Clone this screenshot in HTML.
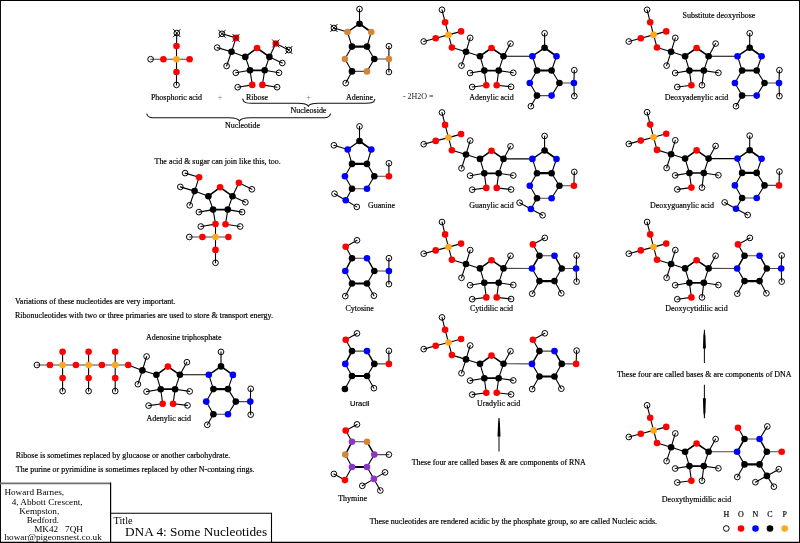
<!DOCTYPE html>
<html lang="en">
<head>
<meta charset="utf-8">
<title>DNA 4: Some Nucleotides</title>
<style>
html,body{margin:0;padding:0;background:#fff;}
body{width:800px;height:543px;overflow:hidden;font-family:"Liberation Serif",serif;}
svg{display:block;will-change:transform;}
svg text{white-space:pre;}
circle.h{fill:none;stroke:#000;stroke-width:0.98;}
.ln{fill:none;stroke:#111;stroke-width:1.05;}
</style>
</head>
<body>
<svg width="800" height="543" viewBox="0 0 800 543">
<rect x="0" y="0" width="800" height="543" fill="#fff"/>
<g stroke="#000" stroke-width="1.1" stroke-linecap="round">
<line x1="466" y1="51.8" x2="470.2" y2="37.9"/>
<line x1="466" y1="51.8" x2="461.5" y2="65.6"/>
<line x1="466" y1="51.8" x2="480" y2="56.2"/>
<line x1="480" y1="56.2" x2="491.5" y2="48" stroke-width="1.6"/>
<line x1="491.5" y1="48" x2="503.5" y2="56.2" stroke-width="1.6"/>
<line x1="480" y1="56.2" x2="484.3" y2="70.6"/>
<line x1="484.3" y1="70.6" x2="498.7" y2="70.6" stroke-width="1.7"/>
<line x1="498.7" y1="70.6" x2="503.5" y2="56.2"/>
<line x1="503.5" y1="56.2" x2="510.5" y2="43.6"/>
<line x1="484.3" y1="70.6" x2="470.1" y2="73"/>
<line x1="498.7" y1="70.6" x2="513.3" y2="72.8"/>
<line x1="484.3" y1="70.6" x2="486.3" y2="85.2"/>
<line x1="486.3" y1="85.2" x2="472.2" y2="87"/>
<line x1="498.7" y1="70.6" x2="496.7" y2="85.2"/>
<line x1="496.7" y1="85.2" x2="511.1" y2="86.8"/>
<line x1="442" y1="9.8" x2="445.1" y2="22.2"/>
<line x1="445.1" y1="22.2" x2="448.5" y2="34.9"/>
<line x1="448.5" y1="34.9" x2="461.1" y2="31.4"/>
<line x1="448.5" y1="34.9" x2="435.7" y2="38.2"/>
<line x1="435.7" y1="38.2" x2="423.7" y2="41.5"/>
<line x1="448.5" y1="34.9" x2="451.9" y2="47.5"/>
<line x1="451.9" y1="47.5" x2="466" y2="51.8"/>
<line x1="503.5" y1="56.2" x2="532.4" y2="56.2" stroke-width="1.1"/>
<line x1="532.4" y1="56.2" x2="544.6" y2="47.8" stroke-width="1.4"/>
<line x1="544.6" y1="47.8" x2="544.6" y2="33.3"/>
<line x1="544.6" y1="47.8" x2="556.5" y2="56.3" stroke-width="1.7"/>
<line x1="556.5" y1="56.3" x2="551.6" y2="70.5"/>
<line x1="551.6" y1="70.5" x2="537" y2="70.5" stroke-width="2.2"/>
<line x1="537" y1="70.5" x2="532.4" y2="56.2"/>
<line x1="537" y1="70.5" x2="529.8" y2="83"/>
<line x1="529.8" y1="83" x2="537" y2="95.6"/>
<line x1="537" y1="95.6" x2="551.6" y2="95.6" stroke="#4a4a4a"/>
<line x1="551.6" y1="95.6" x2="559.4" y2="83"/>
<line x1="559.4" y1="83" x2="551.6" y2="70.5"/>
<line x1="559.4" y1="83" x2="573.9" y2="83" stroke="#4a4a4a"/>
<line x1="573.9" y1="83" x2="574.3" y2="70.2"/>
<line x1="573.9" y1="83" x2="574.3" y2="96.1"/>
<line x1="537" y1="95.6" x2="530.9" y2="106.2"/>
<line x1="466" y1="154.5" x2="470.2" y2="140.6"/>
<line x1="466" y1="154.5" x2="461.5" y2="168.3"/>
<line x1="466" y1="154.5" x2="480" y2="158.9"/>
<line x1="480" y1="158.9" x2="491.5" y2="150.7" stroke-width="1.6"/>
<line x1="491.5" y1="150.7" x2="503.5" y2="158.9" stroke-width="1.6"/>
<line x1="480" y1="158.9" x2="484.3" y2="173.3"/>
<line x1="484.3" y1="173.3" x2="498.7" y2="173.3" stroke-width="1.7"/>
<line x1="498.7" y1="173.3" x2="503.5" y2="158.9"/>
<line x1="503.5" y1="158.9" x2="510.5" y2="146.3"/>
<line x1="484.3" y1="173.3" x2="470.1" y2="175.7"/>
<line x1="498.7" y1="173.3" x2="513.3" y2="175.5"/>
<line x1="484.3" y1="173.3" x2="486.3" y2="187.9"/>
<line x1="486.3" y1="187.9" x2="472.2" y2="189.7"/>
<line x1="498.7" y1="173.3" x2="496.7" y2="187.9"/>
<line x1="496.7" y1="187.9" x2="511.1" y2="189.5"/>
<line x1="442" y1="112.5" x2="445.1" y2="124.9"/>
<line x1="445.1" y1="124.9" x2="448.5" y2="137.6"/>
<line x1="448.5" y1="137.6" x2="461.1" y2="134.1"/>
<line x1="448.5" y1="137.6" x2="435.7" y2="140.9"/>
<line x1="435.7" y1="140.9" x2="423.7" y2="144.2"/>
<line x1="448.5" y1="137.6" x2="451.9" y2="150.2"/>
<line x1="451.9" y1="150.2" x2="466" y2="154.5"/>
<line x1="503.5" y1="158.9" x2="532.4" y2="158.9" stroke-width="1.1"/>
<line x1="532.4" y1="158.9" x2="544.6" y2="150.5" stroke-width="1.4"/>
<line x1="544.6" y1="150.5" x2="544.6" y2="136"/>
<line x1="544.6" y1="150.5" x2="556.5" y2="159" stroke-width="1.7"/>
<line x1="556.5" y1="159" x2="551.6" y2="173.2"/>
<line x1="551.6" y1="173.2" x2="537" y2="173.2" stroke-width="2.2"/>
<line x1="537" y1="173.2" x2="532.4" y2="158.9"/>
<line x1="537" y1="173.2" x2="529.8" y2="185.7"/>
<line x1="529.8" y1="185.7" x2="537" y2="198.3"/>
<line x1="537" y1="198.3" x2="551.6" y2="198.3" stroke="#4a4a4a"/>
<line x1="551.6" y1="198.3" x2="559.4" y2="185.7"/>
<line x1="559.4" y1="185.7" x2="551.6" y2="173.2"/>
<line x1="559.4" y1="185.7" x2="573.9" y2="185.7" stroke="#4a4a4a"/>
<line x1="573.9" y1="185.7" x2="574.3" y2="171.9"/>
<line x1="537" y1="198.3" x2="530.9" y2="209"/>
<line x1="530.9" y1="209" x2="519.6" y2="202.7"/>
<line x1="530.9" y1="209" x2="542.6" y2="215.3"/>
<line x1="466" y1="264" x2="470.2" y2="250.1"/>
<line x1="466" y1="264" x2="461.5" y2="277.8"/>
<line x1="466" y1="264" x2="480" y2="268.4"/>
<line x1="480" y1="268.4" x2="491.5" y2="260.2" stroke-width="1.6"/>
<line x1="491.5" y1="260.2" x2="503.5" y2="268.4" stroke-width="1.6"/>
<line x1="480" y1="268.4" x2="484.3" y2="282.8"/>
<line x1="484.3" y1="282.8" x2="498.7" y2="282.8" stroke-width="1.7"/>
<line x1="498.7" y1="282.8" x2="503.5" y2="268.4"/>
<line x1="503.5" y1="268.4" x2="510.5" y2="255.8"/>
<line x1="484.3" y1="282.8" x2="470.1" y2="285.2"/>
<line x1="498.7" y1="282.8" x2="513.3" y2="285"/>
<line x1="484.3" y1="282.8" x2="486.3" y2="297.4"/>
<line x1="486.3" y1="297.4" x2="472.2" y2="299.2"/>
<line x1="498.7" y1="282.8" x2="496.7" y2="297.4"/>
<line x1="496.7" y1="297.4" x2="511.1" y2="299"/>
<line x1="442" y1="222" x2="445.1" y2="234.4"/>
<line x1="445.1" y1="234.4" x2="448.5" y2="247.1"/>
<line x1="448.5" y1="247.1" x2="461.1" y2="243.6"/>
<line x1="448.5" y1="247.1" x2="435.7" y2="250.4"/>
<line x1="435.7" y1="250.4" x2="423.7" y2="253.7"/>
<line x1="448.5" y1="247.1" x2="451.9" y2="259.7"/>
<line x1="451.9" y1="259.7" x2="466" y2="264"/>
<line x1="503.5" y1="268.4" x2="532" y2="268.5" stroke="#4a4a4a"/>
<line x1="532" y1="268.5" x2="539.4" y2="255.7" stroke-width="1.5"/>
<line x1="539.4" y1="255.7" x2="554.5" y2="255.7" stroke="#4a4a4a"/>
<line x1="554.5" y1="255.7" x2="561.7" y2="268.5" stroke-width="1.5"/>
<line x1="561.7" y1="268.5" x2="554.5" y2="281.1"/>
<line x1="554.5" y1="281.1" x2="539.4" y2="281.1" stroke-width="2.2"/>
<line x1="539.4" y1="281.1" x2="532" y2="268.5"/>
<line x1="539.4" y1="255.7" x2="532.9" y2="244.4"/>
<line x1="539.4" y1="281.1" x2="532.2" y2="293.7"/>
<line x1="532.9" y1="244.4" x2="544.8" y2="237.9"/>
<line x1="554.5" y1="281.1" x2="561.3" y2="293.3"/>
<line x1="561.7" y1="268.5" x2="576.1" y2="268.5" stroke="#4a4a4a"/>
<line x1="576.1" y1="268.5" x2="576.6" y2="255.5"/>
<line x1="576.1" y1="268.5" x2="576.6" y2="281.6"/>
<line x1="466" y1="359.4" x2="470.2" y2="345.5"/>
<line x1="466" y1="359.4" x2="461.5" y2="373.2"/>
<line x1="466" y1="359.4" x2="480" y2="363.8"/>
<line x1="480" y1="363.8" x2="491.5" y2="355.6" stroke-width="1.6"/>
<line x1="491.5" y1="355.6" x2="503.5" y2="363.8" stroke-width="1.6"/>
<line x1="480" y1="363.8" x2="484.3" y2="378.2"/>
<line x1="484.3" y1="378.2" x2="498.7" y2="378.2" stroke-width="1.7"/>
<line x1="498.7" y1="378.2" x2="503.5" y2="363.8"/>
<line x1="503.5" y1="363.8" x2="510.5" y2="351.2"/>
<line x1="484.3" y1="378.2" x2="470.1" y2="380.6"/>
<line x1="498.7" y1="378.2" x2="513.3" y2="380.4"/>
<line x1="484.3" y1="378.2" x2="486.3" y2="392.8"/>
<line x1="486.3" y1="392.8" x2="472.2" y2="394.6"/>
<line x1="498.7" y1="378.2" x2="496.7" y2="392.8"/>
<line x1="496.7" y1="392.8" x2="511.1" y2="394.4"/>
<line x1="442" y1="317.4" x2="445.1" y2="329.8"/>
<line x1="445.1" y1="329.8" x2="448.5" y2="342.5"/>
<line x1="448.5" y1="342.5" x2="461.1" y2="339"/>
<line x1="448.5" y1="342.5" x2="435.7" y2="345.8"/>
<line x1="435.7" y1="345.8" x2="423.7" y2="349.1"/>
<line x1="448.5" y1="342.5" x2="451.9" y2="355.1"/>
<line x1="451.9" y1="355.1" x2="466" y2="359.4"/>
<line x1="503.5" y1="363.8" x2="532" y2="363.9" stroke="#4a4a4a"/>
<line x1="532" y1="363.9" x2="539.4" y2="351.1" stroke-width="1.5"/>
<line x1="539.4" y1="351.1" x2="554.5" y2="351.1" stroke="#4a4a4a"/>
<line x1="554.5" y1="351.1" x2="561.7" y2="363.9" stroke-width="1.5"/>
<line x1="561.7" y1="363.9" x2="554.5" y2="376.5"/>
<line x1="554.5" y1="376.5" x2="539.4" y2="376.5" stroke-width="2.2"/>
<line x1="539.4" y1="376.5" x2="532" y2="363.9"/>
<line x1="539.4" y1="351.1" x2="532.9" y2="339.8"/>
<line x1="539.4" y1="376.5" x2="532.2" y2="389.1"/>
<line x1="532.9" y1="339.8" x2="544.8" y2="333.3"/>
<line x1="554.5" y1="376.5" x2="561.3" y2="388.7"/>
<line x1="561.7" y1="363.9" x2="576.1" y2="363.9" stroke="#4a4a4a"/>
<line x1="576.1" y1="363.9" x2="576.6" y2="350.6"/>
<line x1="671.1" y1="51.8" x2="675.3" y2="37.9"/>
<line x1="671.1" y1="51.8" x2="666.6" y2="65.6"/>
<line x1="671.1" y1="51.8" x2="685.1" y2="56.2"/>
<line x1="685.1" y1="56.2" x2="696.6" y2="48" stroke-width="1.6"/>
<line x1="696.6" y1="48" x2="708.6" y2="56.2" stroke-width="1.6"/>
<line x1="685.1" y1="56.2" x2="689.4" y2="70.6"/>
<line x1="689.4" y1="70.6" x2="703.8" y2="70.6" stroke-width="1.7"/>
<line x1="703.8" y1="70.6" x2="708.6" y2="56.2"/>
<line x1="708.6" y1="56.2" x2="715.6" y2="43.6"/>
<line x1="689.4" y1="70.6" x2="675.2" y2="73"/>
<line x1="703.8" y1="70.6" x2="718.4" y2="72.8"/>
<line x1="689.4" y1="70.6" x2="691.4" y2="85.2"/>
<line x1="691.4" y1="85.2" x2="677.3" y2="87"/>
<line x1="703.8" y1="70.6" x2="702" y2="85.2"/>
<line x1="647.1" y1="9.8" x2="650.2" y2="22.2"/>
<line x1="650.2" y1="22.2" x2="653.6" y2="34.9"/>
<line x1="653.6" y1="34.9" x2="666.2" y2="31.4"/>
<line x1="653.6" y1="34.9" x2="640.8" y2="38.2"/>
<line x1="640.8" y1="38.2" x2="628.8" y2="41.5"/>
<line x1="653.6" y1="34.9" x2="657" y2="47.5"/>
<line x1="657" y1="47.5" x2="671.1" y2="51.8"/>
<line x1="708.6" y1="56.2" x2="737.5" y2="56.2" stroke-width="1.1"/>
<line x1="737.5" y1="56.2" x2="749.7" y2="47.8" stroke-width="1.4"/>
<line x1="749.7" y1="47.8" x2="749.7" y2="33.3"/>
<line x1="749.7" y1="47.8" x2="761.6" y2="56.3" stroke-width="1.7"/>
<line x1="761.6" y1="56.3" x2="756.7" y2="70.5"/>
<line x1="756.7" y1="70.5" x2="742.1" y2="70.5" stroke-width="2.2"/>
<line x1="742.1" y1="70.5" x2="737.5" y2="56.2"/>
<line x1="742.1" y1="70.5" x2="734.9" y2="83"/>
<line x1="734.9" y1="83" x2="742.1" y2="95.6"/>
<line x1="742.1" y1="95.6" x2="756.7" y2="95.6" stroke="#4a4a4a"/>
<line x1="756.7" y1="95.6" x2="764.5" y2="83"/>
<line x1="764.5" y1="83" x2="756.7" y2="70.5"/>
<line x1="764.5" y1="83" x2="779" y2="83" stroke="#4a4a4a"/>
<line x1="779" y1="83" x2="779.4" y2="70.2"/>
<line x1="779" y1="83" x2="779.4" y2="96.1"/>
<line x1="742.1" y1="95.6" x2="736" y2="106.2"/>
<line x1="671.1" y1="154.2" x2="675.3" y2="140.3"/>
<line x1="671.1" y1="154.2" x2="666.6" y2="168"/>
<line x1="671.1" y1="154.2" x2="685.1" y2="158.6"/>
<line x1="685.1" y1="158.6" x2="696.6" y2="150.4" stroke-width="1.6"/>
<line x1="696.6" y1="150.4" x2="708.6" y2="158.6" stroke-width="1.6"/>
<line x1="685.1" y1="158.6" x2="689.4" y2="173"/>
<line x1="689.4" y1="173" x2="703.8" y2="173" stroke-width="1.7"/>
<line x1="703.8" y1="173" x2="708.6" y2="158.6"/>
<line x1="708.6" y1="158.6" x2="715.6" y2="146"/>
<line x1="689.4" y1="173" x2="675.2" y2="175.4"/>
<line x1="703.8" y1="173" x2="718.4" y2="175.2"/>
<line x1="689.4" y1="173" x2="691.4" y2="187.6"/>
<line x1="691.4" y1="187.6" x2="677.3" y2="189.4"/>
<line x1="703.8" y1="173" x2="702" y2="187.6"/>
<line x1="647.1" y1="112.2" x2="650.2" y2="124.6"/>
<line x1="650.2" y1="124.6" x2="653.6" y2="137.3"/>
<line x1="653.6" y1="137.3" x2="666.2" y2="133.8"/>
<line x1="653.6" y1="137.3" x2="640.8" y2="140.6"/>
<line x1="640.8" y1="140.6" x2="628.8" y2="143.9"/>
<line x1="653.6" y1="137.3" x2="657" y2="149.9"/>
<line x1="657" y1="149.9" x2="671.1" y2="154.2"/>
<line x1="708.6" y1="158.6" x2="737.5" y2="158.6" stroke-width="1.1"/>
<line x1="737.5" y1="158.6" x2="749.7" y2="150.2" stroke-width="1.4"/>
<line x1="749.7" y1="150.2" x2="749.7" y2="135.7"/>
<line x1="749.7" y1="150.2" x2="761.6" y2="158.7" stroke-width="1.7"/>
<line x1="761.6" y1="158.7" x2="756.7" y2="172.9"/>
<line x1="756.7" y1="172.9" x2="742.1" y2="172.9" stroke-width="2.2"/>
<line x1="742.1" y1="172.9" x2="737.5" y2="158.6"/>
<line x1="742.1" y1="172.9" x2="734.9" y2="185.4"/>
<line x1="734.9" y1="185.4" x2="742.1" y2="198"/>
<line x1="742.1" y1="198" x2="756.7" y2="198" stroke="#4a4a4a"/>
<line x1="756.7" y1="198" x2="764.5" y2="185.4"/>
<line x1="764.5" y1="185.4" x2="756.7" y2="172.9"/>
<line x1="764.5" y1="185.4" x2="779" y2="185.4" stroke="#4a4a4a"/>
<line x1="779" y1="185.4" x2="779.4" y2="171.6"/>
<line x1="742.1" y1="198" x2="736" y2="208.7"/>
<line x1="736" y1="208.7" x2="724.7" y2="202.4"/>
<line x1="736" y1="208.7" x2="747.7" y2="215"/>
<line x1="671.1" y1="264" x2="675.3" y2="250.1"/>
<line x1="671.1" y1="264" x2="666.6" y2="277.8"/>
<line x1="671.1" y1="264" x2="685.1" y2="268.4"/>
<line x1="685.1" y1="268.4" x2="696.6" y2="260.2" stroke-width="1.6"/>
<line x1="696.6" y1="260.2" x2="708.6" y2="268.4" stroke-width="1.6"/>
<line x1="685.1" y1="268.4" x2="689.4" y2="282.8"/>
<line x1="689.4" y1="282.8" x2="703.8" y2="282.8" stroke-width="1.7"/>
<line x1="703.8" y1="282.8" x2="708.6" y2="268.4"/>
<line x1="708.6" y1="268.4" x2="715.6" y2="255.8"/>
<line x1="689.4" y1="282.8" x2="675.2" y2="285.2"/>
<line x1="703.8" y1="282.8" x2="718.4" y2="285"/>
<line x1="689.4" y1="282.8" x2="691.4" y2="297.4"/>
<line x1="691.4" y1="297.4" x2="677.3" y2="299.2"/>
<line x1="703.8" y1="282.8" x2="702" y2="297.4"/>
<line x1="647.1" y1="222" x2="650.2" y2="234.4"/>
<line x1="650.2" y1="234.4" x2="653.6" y2="247.1"/>
<line x1="653.6" y1="247.1" x2="666.2" y2="243.6"/>
<line x1="653.6" y1="247.1" x2="640.8" y2="250.4"/>
<line x1="640.8" y1="250.4" x2="628.8" y2="253.7"/>
<line x1="653.6" y1="247.1" x2="657" y2="259.7"/>
<line x1="657" y1="259.7" x2="671.1" y2="264"/>
<line x1="708.6" y1="268.4" x2="737.1" y2="268.5" stroke="#4a4a4a"/>
<line x1="737.1" y1="268.5" x2="744.5" y2="255.7" stroke-width="1.5"/>
<line x1="744.5" y1="255.7" x2="759.6" y2="255.7" stroke="#4a4a4a"/>
<line x1="759.6" y1="255.7" x2="766.8" y2="268.5" stroke-width="1.5"/>
<line x1="766.8" y1="268.5" x2="759.6" y2="281.1"/>
<line x1="759.6" y1="281.1" x2="744.5" y2="281.1" stroke-width="2.2"/>
<line x1="744.5" y1="281.1" x2="737.1" y2="268.5"/>
<line x1="744.5" y1="255.7" x2="738" y2="244.4"/>
<line x1="744.5" y1="281.1" x2="737.3" y2="293.7"/>
<line x1="738" y1="244.4" x2="749.9" y2="237.9"/>
<line x1="759.6" y1="281.1" x2="766.4" y2="293.3"/>
<line x1="766.8" y1="268.5" x2="781.2" y2="268.5" stroke="#4a4a4a"/>
<line x1="781.2" y1="268.5" x2="781.7" y2="255.5"/>
<line x1="781.2" y1="268.5" x2="781.7" y2="281.6"/>
<line x1="671.1" y1="447.3" x2="675.3" y2="433.4"/>
<line x1="671.1" y1="447.3" x2="666.6" y2="461.1"/>
<line x1="671.1" y1="447.3" x2="685.1" y2="451.7"/>
<line x1="685.1" y1="451.7" x2="696.6" y2="443.5" stroke-width="1.6"/>
<line x1="696.6" y1="443.5" x2="708.6" y2="451.7" stroke-width="1.6"/>
<line x1="685.1" y1="451.7" x2="689.4" y2="466.1"/>
<line x1="689.4" y1="466.1" x2="703.8" y2="466.1" stroke-width="1.7"/>
<line x1="703.8" y1="466.1" x2="708.6" y2="451.7"/>
<line x1="708.6" y1="451.7" x2="715.6" y2="439.1"/>
<line x1="689.4" y1="466.1" x2="675.2" y2="468.5"/>
<line x1="703.8" y1="466.1" x2="718.4" y2="468.3"/>
<line x1="689.4" y1="466.1" x2="691.4" y2="480.7"/>
<line x1="691.4" y1="480.7" x2="677.3" y2="482.5"/>
<line x1="703.8" y1="466.1" x2="702" y2="480.7"/>
<line x1="647.1" y1="405.3" x2="650.2" y2="417.7"/>
<line x1="650.2" y1="417.7" x2="653.6" y2="430.4"/>
<line x1="653.6" y1="430.4" x2="666.2" y2="426.9"/>
<line x1="653.6" y1="430.4" x2="640.8" y2="433.7"/>
<line x1="640.8" y1="433.7" x2="628.8" y2="437"/>
<line x1="653.6" y1="430.4" x2="657" y2="443"/>
<line x1="657" y1="443" x2="671.1" y2="447.3"/>
<line x1="708.6" y1="451.7" x2="737.1" y2="451.8" stroke="#4a4a4a"/>
<line x1="737.1" y1="451.8" x2="744.5" y2="439" stroke-width="1.5"/>
<line x1="744.5" y1="439" x2="759.6" y2="439" stroke="#4a4a4a"/>
<line x1="759.6" y1="439" x2="766.8" y2="451.8" stroke-width="1.5"/>
<line x1="766.8" y1="451.8" x2="759.6" y2="464.4"/>
<line x1="759.6" y1="464.4" x2="744.5" y2="464.4" stroke-width="2.2"/>
<line x1="744.5" y1="464.4" x2="737.1" y2="451.8"/>
<line x1="744.5" y1="439" x2="738" y2="427.7"/>
<line x1="744.5" y1="464.4" x2="737.3" y2="477"/>
<line x1="759.6" y1="439" x2="767.3" y2="426.4"/>
<line x1="766.8" y1="451.8" x2="781.7" y2="451.8" stroke="#4a4a4a"/>
<line x1="759.6" y1="464.4" x2="766.9" y2="475.9"/>
<line x1="766.9" y1="475.9" x2="778.8" y2="469.2"/>
<line x1="766.9" y1="475.9" x2="755.4" y2="482.2"/>
<line x1="766.9" y1="475.9" x2="773.9" y2="486.7"/>
<line x1="142.4" y1="370.4" x2="146.6" y2="356.5"/>
<line x1="142.4" y1="370.4" x2="137.9" y2="384.2"/>
<line x1="142.4" y1="370.4" x2="156.4" y2="374.8"/>
<line x1="156.4" y1="374.8" x2="167.9" y2="366.6" stroke-width="1.6"/>
<line x1="167.9" y1="366.6" x2="179.9" y2="374.8" stroke-width="1.6"/>
<line x1="156.4" y1="374.8" x2="160.7" y2="389.2"/>
<line x1="160.7" y1="389.2" x2="175.1" y2="389.2" stroke-width="1.7"/>
<line x1="175.1" y1="389.2" x2="179.9" y2="374.8"/>
<line x1="179.9" y1="374.8" x2="186.9" y2="362.2"/>
<line x1="160.7" y1="389.2" x2="146.5" y2="391.6"/>
<line x1="175.1" y1="389.2" x2="189.7" y2="391.4"/>
<line x1="160.7" y1="389.2" x2="162.7" y2="403.8"/>
<line x1="162.7" y1="403.8" x2="148.6" y2="405.6"/>
<line x1="175.1" y1="389.2" x2="173.1" y2="403.8"/>
<line x1="173.1" y1="403.8" x2="187.5" y2="405.4"/>
<line x1="179.9" y1="374.8" x2="208.8" y2="374.8" stroke-width="1.1"/>
<line x1="208.8" y1="374.8" x2="221" y2="366.4" stroke-width="1.4"/>
<line x1="221" y1="366.4" x2="221" y2="351.9"/>
<line x1="221" y1="366.4" x2="232.9" y2="374.9" stroke-width="1.7"/>
<line x1="232.9" y1="374.9" x2="228" y2="389.1"/>
<line x1="228" y1="389.1" x2="213.4" y2="389.1" stroke-width="2.2"/>
<line x1="213.4" y1="389.1" x2="208.8" y2="374.8"/>
<line x1="213.4" y1="389.1" x2="206.2" y2="401.6"/>
<line x1="206.2" y1="401.6" x2="213.4" y2="414.2"/>
<line x1="213.4" y1="414.2" x2="228" y2="414.2" stroke="#4a4a4a"/>
<line x1="228" y1="414.2" x2="235.8" y2="401.6"/>
<line x1="235.8" y1="401.6" x2="228" y2="389.1"/>
<line x1="235.8" y1="401.6" x2="250.3" y2="401.6" stroke="#4a4a4a"/>
<line x1="250.3" y1="401.6" x2="250.7" y2="388.8"/>
<line x1="250.3" y1="401.6" x2="250.7" y2="414.7"/>
<line x1="213.4" y1="414.2" x2="207.3" y2="424.8"/>
<line x1="36.9" y1="365" x2="49.9" y2="365" stroke="#4a4a4a"/>
<line x1="49.9" y1="365" x2="62.6" y2="365" stroke="#4a4a4a"/>
<line x1="62.6" y1="365" x2="75.9" y2="365" stroke="#4a4a4a"/>
<line x1="75.9" y1="365" x2="88.6" y2="365" stroke="#4a4a4a"/>
<line x1="88.6" y1="365" x2="101.9" y2="365" stroke="#4a4a4a"/>
<line x1="101.9" y1="365" x2="115.2" y2="365" stroke="#4a4a4a"/>
<line x1="115.2" y1="365" x2="128.2" y2="365" stroke="#4a4a4a"/>
<line x1="128.2" y1="365" x2="142.4" y2="370.4"/>
<line x1="62.6" y1="365" x2="62.6" y2="351.8"/>
<line x1="62.6" y1="365" x2="62.6" y2="378.1"/>
<line x1="62.6" y1="378.1" x2="62.6" y2="391.1"/>
<line x1="88.6" y1="365" x2="88.6" y2="351.8"/>
<line x1="88.6" y1="365" x2="88.6" y2="378.1"/>
<line x1="88.6" y1="378.1" x2="88.6" y2="391.1"/>
<line x1="115.2" y1="365" x2="115.2" y2="351.8"/>
<line x1="115.2" y1="365" x2="115.2" y2="378.1"/>
<line x1="115.2" y1="378.1" x2="115.2" y2="391.1"/>
<line x1="176.5" y1="59.2" x2="176.5" y2="46"/>
<line x1="176.5" y1="59.2" x2="176.5" y2="72"/>
<line x1="176.5" y1="59.2" x2="163.4" y2="59.2" stroke="#4a4a4a"/>
<line x1="176.5" y1="59.2" x2="189.6" y2="59.2" stroke="#4a4a4a"/>
<line x1="176.5" y1="46" x2="176.8" y2="33.1"/>
<line x1="163.4" y1="59.2" x2="150.6" y2="59.2" stroke="#4a4a4a"/>
<line x1="176.5" y1="72" x2="176.5" y2="84.9"/>
<line x1="245.3" y1="56.9" x2="257" y2="48" stroke-width="1.6"/>
<line x1="257" y1="48" x2="269.4" y2="56.9" stroke-width="1.6"/>
<line x1="269.4" y1="56.9" x2="264.7" y2="70.3"/>
<line x1="264.7" y1="70.3" x2="250" y2="70.3" stroke-width="1.7"/>
<line x1="250" y1="70.3" x2="245.3" y2="56.9"/>
<line x1="245.3" y1="56.9" x2="231.5" y2="51.8"/>
<line x1="231.5" y1="51.8" x2="236" y2="37.9"/>
<line x1="236" y1="37.9" x2="222" y2="33.8"/>
<line x1="231.5" y1="51.8" x2="217.2" y2="47.6"/>
<line x1="231.5" y1="51.8" x2="226.6" y2="66"/>
<line x1="269.4" y1="56.9" x2="275.8" y2="43.5"/>
<line x1="275.8" y1="43.5" x2="288.8" y2="50"/>
<line x1="269.4" y1="56.9" x2="282.3" y2="63"/>
<line x1="250" y1="70.3" x2="235.8" y2="72.8"/>
<line x1="264.7" y1="70.3" x2="279" y2="72.8"/>
<line x1="250" y1="70.3" x2="252.3" y2="84.9"/>
<line x1="264.7" y1="70.3" x2="262.4" y2="84.9"/>
<line x1="252.3" y1="84.9" x2="237.7" y2="87.2"/>
<line x1="262.4" y1="84.9" x2="277.1" y2="87.2"/>
<line x1="208.4" y1="196.2" x2="220.1" y2="187.3" stroke-width="1.6"/>
<line x1="220.1" y1="187.3" x2="232.5" y2="196.2" stroke-width="1.6"/>
<line x1="232.5" y1="196.2" x2="227.8" y2="209.6"/>
<line x1="227.8" y1="209.6" x2="213.1" y2="209.6" stroke-width="1.7"/>
<line x1="213.1" y1="209.6" x2="208.4" y2="196.2"/>
<line x1="208.4" y1="196.2" x2="194.6" y2="191.1"/>
<line x1="194.6" y1="191.1" x2="199.1" y2="177.2"/>
<line x1="199.1" y1="177.2" x2="185.1" y2="173.1"/>
<line x1="194.6" y1="191.1" x2="180.3" y2="186.9"/>
<line x1="194.6" y1="191.1" x2="189.7" y2="205.3"/>
<line x1="232.5" y1="196.2" x2="238.9" y2="182.8"/>
<line x1="238.9" y1="182.8" x2="251.9" y2="189.3"/>
<line x1="232.5" y1="196.2" x2="245.4" y2="202.3"/>
<line x1="213.1" y1="209.6" x2="198.9" y2="212.1"/>
<line x1="227.8" y1="209.6" x2="242.1" y2="212.1"/>
<line x1="213.1" y1="209.6" x2="215.5" y2="224.1"/>
<line x1="227.8" y1="209.6" x2="225.5" y2="224.2"/>
<line x1="215.5" y1="224.1" x2="200.8" y2="226.5"/>
<line x1="225.5" y1="224.2" x2="240.2" y2="226.5"/>
<line x1="215.5" y1="224.1" x2="215.5" y2="237"/>
<line x1="215.5" y1="237" x2="202.4" y2="237" stroke="#4a4a4a"/>
<line x1="202.4" y1="237" x2="189.3" y2="237" stroke="#4a4a4a"/>
<line x1="215.5" y1="237" x2="228.4" y2="237" stroke="#4a4a4a"/>
<line x1="215.5" y1="237" x2="215.5" y2="249.9"/>
<line x1="215.5" y1="249.9" x2="215.5" y2="262.8"/>
<line x1="359.5" y1="9.1" x2="359.5" y2="23.7"/>
<line x1="359.5" y1="23.7" x2="347.5" y2="32" stroke-width="1.4"/>
<line x1="359.5" y1="23.7" x2="371.2" y2="32" stroke-width="1.7"/>
<line x1="347.5" y1="32" x2="333.9" y2="28"/>
<line x1="347.5" y1="32" x2="352" y2="46.6"/>
<line x1="371.2" y1="32" x2="367" y2="46.6"/>
<line x1="352" y1="46.6" x2="367" y2="46.6" stroke-width="2.2"/>
<line x1="352" y1="46.6" x2="344.9" y2="59"/>
<line x1="367" y1="46.6" x2="374.3" y2="59"/>
<line x1="344.9" y1="59" x2="352" y2="71.4"/>
<line x1="352" y1="71.4" x2="367" y2="71.4" stroke="#4a4a4a"/>
<line x1="367" y1="71.4" x2="374.3" y2="59"/>
<line x1="352" y1="71.4" x2="345.7" y2="83.1"/>
<line x1="374.3" y1="59" x2="388.9" y2="59" stroke="#4a4a4a"/>
<line x1="388.9" y1="59" x2="388.9" y2="46.2"/>
<line x1="388.9" y1="59" x2="388.9" y2="72"/>
<line x1="359.5" y1="126.4" x2="359.5" y2="141"/>
<line x1="359.5" y1="141" x2="347.7" y2="149.5" stroke-width="1.4"/>
<line x1="359.5" y1="141" x2="371.3" y2="149.5" stroke-width="1.7"/>
<line x1="347.7" y1="149.5" x2="333.9" y2="145.3"/>
<line x1="347.7" y1="149.5" x2="352" y2="163.9"/>
<line x1="371.3" y1="149.5" x2="367" y2="163.9"/>
<line x1="352" y1="163.9" x2="367" y2="163.9" stroke-width="2.2"/>
<line x1="352" y1="163.9" x2="344.9" y2="176.2"/>
<line x1="367" y1="163.9" x2="374.3" y2="176.2"/>
<line x1="344.9" y1="176.2" x2="352" y2="188.7"/>
<line x1="352" y1="188.7" x2="367" y2="188.7" stroke="#4a4a4a"/>
<line x1="367" y1="188.7" x2="374.3" y2="176.2"/>
<line x1="374.3" y1="176.2" x2="388.9" y2="176.2" stroke="#4a4a4a"/>
<line x1="388.9" y1="176.2" x2="388.9" y2="163.3"/>
<line x1="352" y1="188.7" x2="345.7" y2="200.2"/>
<line x1="345.7" y1="200.2" x2="334.5" y2="193.7"/>
<line x1="345.7" y1="200.2" x2="356.8" y2="206.9"/>
<line x1="345.7" y1="246.8" x2="357" y2="240.3"/>
<line x1="345.7" y1="246.8" x2="352" y2="258.2"/>
<line x1="352" y1="258.2" x2="367" y2="258.2" stroke="#4a4a4a"/>
<line x1="352" y1="258.2" x2="345.3" y2="271" stroke-width="1.5"/>
<line x1="367" y1="258.2" x2="374.3" y2="271" stroke-width="1.5"/>
<line x1="374.3" y1="271" x2="388.9" y2="271" stroke="#4a4a4a"/>
<line x1="388.9" y1="271" x2="388.9" y2="258.2"/>
<line x1="388.9" y1="271" x2="388.9" y2="284.1"/>
<line x1="345.3" y1="271" x2="352" y2="283.5"/>
<line x1="352" y1="283.5" x2="367" y2="283.5" stroke-width="2.2"/>
<line x1="367" y1="283.5" x2="374.3" y2="271"/>
<line x1="352" y1="283.5" x2="345.3" y2="296.1"/>
<line x1="367" y1="283.5" x2="373.9" y2="295.7"/>
<line x1="345.7" y1="339.7" x2="357" y2="333.4"/>
<line x1="345.7" y1="339.7" x2="352" y2="351.1"/>
<line x1="352" y1="351.1" x2="367" y2="351.1" stroke="#4a4a4a"/>
<line x1="352" y1="351.1" x2="345.3" y2="363.9" stroke-width="1.5"/>
<line x1="367" y1="351.1" x2="374.3" y2="363.9" stroke-width="1.5"/>
<line x1="374.3" y1="363.9" x2="388.9" y2="363.9" stroke="#4a4a4a"/>
<line x1="388.9" y1="363.9" x2="388.9" y2="350.9"/>
<line x1="345.3" y1="363.9" x2="352" y2="376"/>
<line x1="352" y1="376" x2="367" y2="376" stroke-width="2.2"/>
<line x1="367" y1="376" x2="374.3" y2="363.9"/>
<line x1="352" y1="376" x2="344.9" y2="389"/>
<line x1="367" y1="376" x2="373.9" y2="388.2"/>
<line x1="345.7" y1="430.5" x2="357" y2="424.4"/>
<line x1="345.7" y1="430.5" x2="352" y2="441.8"/>
<line x1="352" y1="441.8" x2="367" y2="441.8" stroke="#4a4a4a"/>
<line x1="352" y1="441.8" x2="345.3" y2="454.6" stroke-width="1.5"/>
<line x1="367" y1="441.8" x2="374.3" y2="454.6" stroke-width="1.5"/>
<line x1="374.3" y1="454.6" x2="388.9" y2="454.6" stroke="#4a4a4a"/>
<line x1="345.3" y1="454.6" x2="352" y2="467"/>
<line x1="352" y1="467" x2="367" y2="467" stroke-width="2.2"/>
<line x1="367" y1="467" x2="374.3" y2="454.6"/>
<line x1="352" y1="467" x2="344.9" y2="480.1"/>
<line x1="344.9" y1="480.1" x2="333.9" y2="473.9"/>
<line x1="367" y1="467" x2="373.9" y2="478.9"/>
<line x1="373.9" y1="478.9" x2="385" y2="472.4"/>
<line x1="373.9" y1="478.9" x2="362.3" y2="485.8"/>
<line x1="373.9" y1="478.9" x2="380.3" y2="490.5"/>
</g>
<g>
<circle cx="466" cy="51.8" r="3.3" fill="#000000"/>
<circle class="h" cx="470.2" cy="37.9" r="2.85"/>
<circle class="h" cx="461.5" cy="65.6" r="2.85"/>
<circle cx="480" cy="56.2" r="3.3" fill="#000000"/>
<circle cx="491.5" cy="48" r="3.3" fill="#ff0000"/>
<circle cx="503.5" cy="56.2" r="3.3" fill="#000000"/>
<circle cx="484.3" cy="70.6" r="3.3" fill="#000000"/>
<circle cx="498.7" cy="70.6" r="3.3" fill="#000000"/>
<circle class="h" cx="510.5" cy="43.6" r="2.85"/>
<circle class="h" cx="470.1" cy="73" r="2.85"/>
<circle class="h" cx="513.3" cy="72.8" r="2.85"/>
<circle cx="486.3" cy="85.2" r="3.3" fill="#ff0000"/>
<circle class="h" cx="472.2" cy="87" r="2.85"/>
<circle cx="496.7" cy="85.2" r="3.3" fill="#ff0000"/>
<circle class="h" cx="511.1" cy="86.8" r="2.85"/>
<circle class="h" cx="442" cy="9.8" r="2.85"/>
<circle cx="445.1" cy="22.2" r="3.3" fill="#ff0000"/>
<circle cx="448.5" cy="34.9" r="3.3" fill="#ffa81e"/>
<circle cx="461.1" cy="31.4" r="3.3" fill="#ff0000"/>
<circle cx="435.7" cy="38.2" r="3.3" fill="#ff0000"/>
<circle class="h" cx="423.7" cy="41.5" r="2.85"/>
<circle cx="451.9" cy="47.5" r="3.3" fill="#ff0000"/>
<circle cx="532.4" cy="56.2" r="3.3" fill="#0000ff"/>
<circle cx="544.6" cy="47.8" r="3.3" fill="#000000"/>
<circle class="h" cx="544.6" cy="33.3" r="2.85"/>
<circle cx="556.5" cy="56.3" r="3.3" fill="#0000ff"/>
<circle cx="537" cy="70.5" r="3.3" fill="#000000"/>
<circle cx="551.6" cy="70.5" r="3.3" fill="#000000"/>
<circle cx="529.8" cy="83" r="3.3" fill="#0000ff"/>
<circle cx="559.4" cy="83" r="3.3" fill="#000000"/>
<circle cx="537" cy="95.6" r="3.3" fill="#000000"/>
<circle cx="551.6" cy="95.6" r="3.3" fill="#0000ff"/>
<circle cx="573.9" cy="83" r="3.3" fill="#0000ff"/>
<circle class="h" cx="574.3" cy="70.2" r="2.85"/>
<circle class="h" cx="574.3" cy="96.1" r="2.85"/>
<circle class="h" cx="530.9" cy="106.2" r="2.85"/>
<circle cx="466" cy="154.5" r="3.3" fill="#000000"/>
<circle class="h" cx="470.2" cy="140.6" r="2.85"/>
<circle class="h" cx="461.5" cy="168.3" r="2.85"/>
<circle cx="480" cy="158.9" r="3.3" fill="#000000"/>
<circle cx="491.5" cy="150.7" r="3.3" fill="#ff0000"/>
<circle cx="503.5" cy="158.9" r="3.3" fill="#000000"/>
<circle cx="484.3" cy="173.3" r="3.3" fill="#000000"/>
<circle cx="498.7" cy="173.3" r="3.3" fill="#000000"/>
<circle class="h" cx="510.5" cy="146.3" r="2.85"/>
<circle class="h" cx="470.1" cy="175.7" r="2.85"/>
<circle class="h" cx="513.3" cy="175.5" r="2.85"/>
<circle cx="486.3" cy="187.9" r="3.3" fill="#ff0000"/>
<circle class="h" cx="472.2" cy="189.7" r="2.85"/>
<circle cx="496.7" cy="187.9" r="3.3" fill="#ff0000"/>
<circle class="h" cx="511.1" cy="189.5" r="2.85"/>
<circle class="h" cx="442" cy="112.5" r="2.85"/>
<circle cx="445.1" cy="124.9" r="3.3" fill="#ff0000"/>
<circle cx="448.5" cy="137.6" r="3.3" fill="#ffa81e"/>
<circle cx="461.1" cy="134.1" r="3.3" fill="#ff0000"/>
<circle cx="435.7" cy="140.9" r="3.3" fill="#ff0000"/>
<circle class="h" cx="423.7" cy="144.2" r="2.85"/>
<circle cx="451.9" cy="150.2" r="3.3" fill="#ff0000"/>
<circle cx="532.4" cy="158.9" r="3.3" fill="#0000ff"/>
<circle cx="544.6" cy="150.5" r="3.3" fill="#000000"/>
<circle class="h" cx="544.6" cy="136" r="2.85"/>
<circle cx="556.5" cy="159" r="3.3" fill="#0000ff"/>
<circle cx="537" cy="173.2" r="3.3" fill="#000000"/>
<circle cx="551.6" cy="173.2" r="3.3" fill="#000000"/>
<circle cx="529.8" cy="185.7" r="3.3" fill="#0000ff"/>
<circle cx="559.4" cy="185.7" r="3.3" fill="#000000"/>
<circle cx="537" cy="198.3" r="3.3" fill="#000000"/>
<circle cx="551.6" cy="198.3" r="3.3" fill="#0000ff"/>
<circle cx="573.9" cy="185.7" r="3.3" fill="#ff0000"/>
<circle class="h" cx="574.3" cy="171.9" r="2.85"/>
<circle cx="530.9" cy="209" r="3.3" fill="#0000ff"/>
<circle class="h" cx="519.6" cy="202.7" r="2.85"/>
<circle class="h" cx="542.6" cy="215.3" r="2.85"/>
<circle cx="466" cy="264" r="3.3" fill="#000000"/>
<circle class="h" cx="470.2" cy="250.1" r="2.85"/>
<circle class="h" cx="461.5" cy="277.8" r="2.85"/>
<circle cx="480" cy="268.4" r="3.3" fill="#000000"/>
<circle cx="491.5" cy="260.2" r="3.3" fill="#ff0000"/>
<circle cx="503.5" cy="268.4" r="3.3" fill="#000000"/>
<circle cx="484.3" cy="282.8" r="3.3" fill="#000000"/>
<circle cx="498.7" cy="282.8" r="3.3" fill="#000000"/>
<circle class="h" cx="510.5" cy="255.8" r="2.85"/>
<circle class="h" cx="470.1" cy="285.2" r="2.85"/>
<circle class="h" cx="513.3" cy="285" r="2.85"/>
<circle cx="486.3" cy="297.4" r="3.3" fill="#ff0000"/>
<circle class="h" cx="472.2" cy="299.2" r="2.85"/>
<circle cx="496.7" cy="297.4" r="3.3" fill="#ff0000"/>
<circle class="h" cx="511.1" cy="299" r="2.85"/>
<circle class="h" cx="442" cy="222" r="2.85"/>
<circle cx="445.1" cy="234.4" r="3.3" fill="#ff0000"/>
<circle cx="448.5" cy="247.1" r="3.3" fill="#ffa81e"/>
<circle cx="461.1" cy="243.6" r="3.3" fill="#ff0000"/>
<circle cx="435.7" cy="250.4" r="3.3" fill="#ff0000"/>
<circle class="h" cx="423.7" cy="253.7" r="2.85"/>
<circle cx="451.9" cy="259.7" r="3.3" fill="#ff0000"/>
<circle cx="532" cy="268.5" r="3.3" fill="#0000ff"/>
<circle cx="539.4" cy="255.7" r="3.3" fill="#000000"/>
<circle cx="554.5" cy="255.7" r="3.3" fill="#0000ff"/>
<circle cx="561.7" cy="268.5" r="3.3" fill="#000000"/>
<circle cx="554.5" cy="281.1" r="3.3" fill="#000000"/>
<circle cx="539.4" cy="281.1" r="3.3" fill="#000000"/>
<circle cx="532.9" cy="244.4" r="3.3" fill="#ff0000"/>
<circle class="h" cx="532.2" cy="293.7" r="2.85"/>
<circle class="h" cx="544.8" cy="237.9" r="2.85"/>
<circle class="h" cx="561.3" cy="293.3" r="2.85"/>
<circle cx="576.1" cy="268.5" r="3.3" fill="#0000ff"/>
<circle class="h" cx="576.6" cy="255.5" r="2.85"/>
<circle class="h" cx="576.6" cy="281.6" r="2.85"/>
<circle cx="466" cy="359.4" r="3.3" fill="#000000"/>
<circle class="h" cx="470.2" cy="345.5" r="2.85"/>
<circle class="h" cx="461.5" cy="373.2" r="2.85"/>
<circle cx="480" cy="363.8" r="3.3" fill="#000000"/>
<circle cx="491.5" cy="355.6" r="3.3" fill="#ff0000"/>
<circle cx="503.5" cy="363.8" r="3.3" fill="#000000"/>
<circle cx="484.3" cy="378.2" r="3.3" fill="#000000"/>
<circle cx="498.7" cy="378.2" r="3.3" fill="#000000"/>
<circle class="h" cx="510.5" cy="351.2" r="2.85"/>
<circle class="h" cx="470.1" cy="380.6" r="2.85"/>
<circle class="h" cx="513.3" cy="380.4" r="2.85"/>
<circle cx="486.3" cy="392.8" r="3.3" fill="#ff0000"/>
<circle class="h" cx="472.2" cy="394.6" r="2.85"/>
<circle cx="496.7" cy="392.8" r="3.3" fill="#ff0000"/>
<circle class="h" cx="511.1" cy="394.4" r="2.85"/>
<circle class="h" cx="442" cy="317.4" r="2.85"/>
<circle cx="445.1" cy="329.8" r="3.3" fill="#ff0000"/>
<circle cx="448.5" cy="342.5" r="3.3" fill="#ffa81e"/>
<circle cx="461.1" cy="339" r="3.3" fill="#ff0000"/>
<circle cx="435.7" cy="345.8" r="3.3" fill="#ff0000"/>
<circle class="h" cx="423.7" cy="349.1" r="2.85"/>
<circle cx="451.9" cy="355.1" r="3.3" fill="#ff0000"/>
<circle cx="532" cy="363.9" r="3.3" fill="#0000ff"/>
<circle cx="539.4" cy="351.1" r="3.3" fill="#000000"/>
<circle cx="554.5" cy="351.1" r="3.3" fill="#0000ff"/>
<circle cx="561.7" cy="363.9" r="3.3" fill="#000000"/>
<circle cx="554.5" cy="376.5" r="3.3" fill="#000000"/>
<circle cx="539.4" cy="376.5" r="3.3" fill="#000000"/>
<circle cx="532.9" cy="339.8" r="3.3" fill="#ff0000"/>
<circle class="h" cx="532.2" cy="389.1" r="2.85"/>
<circle class="h" cx="544.8" cy="333.3" r="2.85"/>
<circle class="h" cx="561.3" cy="388.7" r="2.85"/>
<circle cx="576.1" cy="363.9" r="3.3" fill="#ff0000"/>
<circle class="h" cx="576.6" cy="350.6" r="2.85"/>
<circle cx="671.1" cy="51.8" r="3.3" fill="#000000"/>
<circle class="h" cx="675.3" cy="37.9" r="2.85"/>
<circle class="h" cx="666.6" cy="65.6" r="2.85"/>
<circle cx="685.1" cy="56.2" r="3.3" fill="#000000"/>
<circle cx="696.6" cy="48" r="3.3" fill="#ff0000"/>
<circle cx="708.6" cy="56.2" r="3.3" fill="#000000"/>
<circle cx="689.4" cy="70.6" r="3.3" fill="#000000"/>
<circle cx="703.8" cy="70.6" r="3.3" fill="#000000"/>
<circle class="h" cx="715.6" cy="43.6" r="2.85"/>
<circle class="h" cx="675.2" cy="73" r="2.85"/>
<circle class="h" cx="718.4" cy="72.8" r="2.85"/>
<circle cx="691.4" cy="85.2" r="3.3" fill="#ff0000"/>
<circle class="h" cx="677.3" cy="87" r="2.85"/>
<circle class="h" cx="702" cy="85.2" r="2.85"/>
<circle class="h" cx="647.1" cy="9.8" r="2.85"/>
<circle cx="650.2" cy="22.2" r="3.3" fill="#ff0000"/>
<circle cx="653.6" cy="34.9" r="3.3" fill="#ffa81e"/>
<circle cx="666.2" cy="31.4" r="3.3" fill="#ff0000"/>
<circle cx="640.8" cy="38.2" r="3.3" fill="#ff0000"/>
<circle class="h" cx="628.8" cy="41.5" r="2.85"/>
<circle cx="657" cy="47.5" r="3.3" fill="#ff0000"/>
<circle cx="737.5" cy="56.2" r="3.3" fill="#0000ff"/>
<circle cx="749.7" cy="47.8" r="3.3" fill="#000000"/>
<circle class="h" cx="749.7" cy="33.3" r="2.85"/>
<circle cx="761.6" cy="56.3" r="3.3" fill="#0000ff"/>
<circle cx="742.1" cy="70.5" r="3.3" fill="#000000"/>
<circle cx="756.7" cy="70.5" r="3.3" fill="#000000"/>
<circle cx="734.9" cy="83" r="3.3" fill="#0000ff"/>
<circle cx="764.5" cy="83" r="3.3" fill="#000000"/>
<circle cx="742.1" cy="95.6" r="3.3" fill="#000000"/>
<circle cx="756.7" cy="95.6" r="3.3" fill="#0000ff"/>
<circle cx="779" cy="83" r="3.3" fill="#0000ff"/>
<circle class="h" cx="779.4" cy="70.2" r="2.85"/>
<circle class="h" cx="779.4" cy="96.1" r="2.85"/>
<circle class="h" cx="736" cy="106.2" r="2.85"/>
<circle cx="671.1" cy="154.2" r="3.3" fill="#000000"/>
<circle class="h" cx="675.3" cy="140.3" r="2.85"/>
<circle class="h" cx="666.6" cy="168" r="2.85"/>
<circle cx="685.1" cy="158.6" r="3.3" fill="#000000"/>
<circle cx="696.6" cy="150.4" r="3.3" fill="#ff0000"/>
<circle cx="708.6" cy="158.6" r="3.3" fill="#000000"/>
<circle cx="689.4" cy="173" r="3.3" fill="#000000"/>
<circle cx="703.8" cy="173" r="3.3" fill="#000000"/>
<circle class="h" cx="715.6" cy="146" r="2.85"/>
<circle class="h" cx="675.2" cy="175.4" r="2.85"/>
<circle class="h" cx="718.4" cy="175.2" r="2.85"/>
<circle cx="691.4" cy="187.6" r="3.3" fill="#ff0000"/>
<circle class="h" cx="677.3" cy="189.4" r="2.85"/>
<circle class="h" cx="702" cy="187.6" r="2.85"/>
<circle class="h" cx="647.1" cy="112.2" r="2.85"/>
<circle cx="650.2" cy="124.6" r="3.3" fill="#ff0000"/>
<circle cx="653.6" cy="137.3" r="3.3" fill="#ffa81e"/>
<circle cx="666.2" cy="133.8" r="3.3" fill="#ff0000"/>
<circle cx="640.8" cy="140.6" r="3.3" fill="#ff0000"/>
<circle class="h" cx="628.8" cy="143.9" r="2.85"/>
<circle cx="657" cy="149.9" r="3.3" fill="#ff0000"/>
<circle cx="737.5" cy="158.6" r="3.3" fill="#0000ff"/>
<circle cx="749.7" cy="150.2" r="3.3" fill="#000000"/>
<circle class="h" cx="749.7" cy="135.7" r="2.85"/>
<circle cx="761.6" cy="158.7" r="3.3" fill="#0000ff"/>
<circle cx="742.1" cy="172.9" r="3.3" fill="#000000"/>
<circle cx="756.7" cy="172.9" r="3.3" fill="#000000"/>
<circle cx="734.9" cy="185.4" r="3.3" fill="#0000ff"/>
<circle cx="764.5" cy="185.4" r="3.3" fill="#000000"/>
<circle cx="742.1" cy="198" r="3.3" fill="#000000"/>
<circle cx="756.7" cy="198" r="3.3" fill="#0000ff"/>
<circle cx="779" cy="185.4" r="3.3" fill="#ff0000"/>
<circle class="h" cx="779.4" cy="171.6" r="2.85"/>
<circle cx="736" cy="208.7" r="3.3" fill="#0000ff"/>
<circle class="h" cx="724.7" cy="202.4" r="2.85"/>
<circle class="h" cx="747.7" cy="215" r="2.85"/>
<circle cx="671.1" cy="264" r="3.3" fill="#000000"/>
<circle class="h" cx="675.3" cy="250.1" r="2.85"/>
<circle class="h" cx="666.6" cy="277.8" r="2.85"/>
<circle cx="685.1" cy="268.4" r="3.3" fill="#000000"/>
<circle cx="696.6" cy="260.2" r="3.3" fill="#ff0000"/>
<circle cx="708.6" cy="268.4" r="3.3" fill="#000000"/>
<circle cx="689.4" cy="282.8" r="3.3" fill="#000000"/>
<circle cx="703.8" cy="282.8" r="3.3" fill="#000000"/>
<circle class="h" cx="715.6" cy="255.8" r="2.85"/>
<circle class="h" cx="675.2" cy="285.2" r="2.85"/>
<circle class="h" cx="718.4" cy="285" r="2.85"/>
<circle cx="691.4" cy="297.4" r="3.3" fill="#ff0000"/>
<circle class="h" cx="677.3" cy="299.2" r="2.85"/>
<circle class="h" cx="702" cy="297.4" r="2.85"/>
<circle class="h" cx="647.1" cy="222" r="2.85"/>
<circle cx="650.2" cy="234.4" r="3.3" fill="#ff0000"/>
<circle cx="653.6" cy="247.1" r="3.3" fill="#ffa81e"/>
<circle cx="666.2" cy="243.6" r="3.3" fill="#ff0000"/>
<circle cx="640.8" cy="250.4" r="3.3" fill="#ff0000"/>
<circle class="h" cx="628.8" cy="253.7" r="2.85"/>
<circle cx="657" cy="259.7" r="3.3" fill="#ff0000"/>
<circle cx="737.1" cy="268.5" r="3.3" fill="#0000ff"/>
<circle cx="744.5" cy="255.7" r="3.3" fill="#000000"/>
<circle cx="759.6" cy="255.7" r="3.3" fill="#0000ff"/>
<circle cx="766.8" cy="268.5" r="3.3" fill="#000000"/>
<circle cx="759.6" cy="281.1" r="3.3" fill="#000000"/>
<circle cx="744.5" cy="281.1" r="3.3" fill="#000000"/>
<circle cx="738" cy="244.4" r="3.3" fill="#ff0000"/>
<circle class="h" cx="737.3" cy="293.7" r="2.85"/>
<circle class="h" cx="749.9" cy="237.9" r="2.85"/>
<circle class="h" cx="766.4" cy="293.3" r="2.85"/>
<circle cx="781.2" cy="268.5" r="3.3" fill="#0000ff"/>
<circle class="h" cx="781.7" cy="255.5" r="2.85"/>
<circle class="h" cx="781.7" cy="281.6" r="2.85"/>
<circle cx="671.1" cy="447.3" r="3.3" fill="#000000"/>
<circle class="h" cx="675.3" cy="433.4" r="2.85"/>
<circle class="h" cx="666.6" cy="461.1" r="2.85"/>
<circle cx="685.1" cy="451.7" r="3.3" fill="#000000"/>
<circle cx="696.6" cy="443.5" r="3.3" fill="#ff0000"/>
<circle cx="708.6" cy="451.7" r="3.3" fill="#000000"/>
<circle cx="689.4" cy="466.1" r="3.3" fill="#000000"/>
<circle cx="703.8" cy="466.1" r="3.3" fill="#000000"/>
<circle class="h" cx="715.6" cy="439.1" r="2.85"/>
<circle class="h" cx="675.2" cy="468.5" r="2.85"/>
<circle class="h" cx="718.4" cy="468.3" r="2.85"/>
<circle cx="691.4" cy="480.7" r="3.3" fill="#ff0000"/>
<circle class="h" cx="677.3" cy="482.5" r="2.85"/>
<circle class="h" cx="702" cy="480.7" r="2.85"/>
<circle class="h" cx="647.1" cy="405.3" r="2.85"/>
<circle cx="650.2" cy="417.7" r="3.3" fill="#ff0000"/>
<circle cx="653.6" cy="430.4" r="3.3" fill="#ffa81e"/>
<circle cx="666.2" cy="426.9" r="3.3" fill="#ff0000"/>
<circle cx="640.8" cy="433.7" r="3.3" fill="#ff0000"/>
<circle class="h" cx="628.8" cy="437" r="2.85"/>
<circle cx="657" cy="443" r="3.3" fill="#ff0000"/>
<circle cx="737.1" cy="451.8" r="3.3" fill="#0000ff"/>
<circle cx="744.5" cy="439" r="3.3" fill="#000000"/>
<circle cx="759.6" cy="439" r="3.3" fill="#0000ff"/>
<circle cx="766.8" cy="451.8" r="3.3" fill="#000000"/>
<circle cx="759.6" cy="464.4" r="3.3" fill="#000000"/>
<circle cx="744.5" cy="464.4" r="3.3" fill="#000000"/>
<circle cx="738" cy="427.7" r="3.3" fill="#ff0000"/>
<circle class="h" cx="737.3" cy="477" r="2.85"/>
<circle class="h" cx="767.3" cy="426.4" r="2.85"/>
<circle cx="781.7" cy="451.8" r="3.3" fill="#ff0000"/>
<circle cx="766.9" cy="475.9" r="3.3" fill="#000000"/>
<circle class="h" cx="778.8" cy="469.2" r="2.85"/>
<circle class="h" cx="755.4" cy="482.2" r="2.85"/>
<circle class="h" cx="773.9" cy="486.7" r="2.85"/>
<circle cx="142.4" cy="370.4" r="3.3" fill="#000000"/>
<circle class="h" cx="146.6" cy="356.5" r="2.85"/>
<circle class="h" cx="137.9" cy="384.2" r="2.85"/>
<circle cx="156.4" cy="374.8" r="3.3" fill="#000000"/>
<circle cx="167.9" cy="366.6" r="3.3" fill="#ff0000"/>
<circle cx="179.9" cy="374.8" r="3.3" fill="#000000"/>
<circle cx="160.7" cy="389.2" r="3.3" fill="#000000"/>
<circle cx="175.1" cy="389.2" r="3.3" fill="#000000"/>
<circle class="h" cx="186.9" cy="362.2" r="2.85"/>
<circle class="h" cx="146.5" cy="391.6" r="2.85"/>
<circle class="h" cx="189.7" cy="391.4" r="2.85"/>
<circle cx="162.7" cy="403.8" r="3.3" fill="#ff0000"/>
<circle class="h" cx="148.6" cy="405.6" r="2.85"/>
<circle cx="173.1" cy="403.8" r="3.3" fill="#ff0000"/>
<circle class="h" cx="187.5" cy="405.4" r="2.85"/>
<circle cx="208.8" cy="374.8" r="3.3" fill="#0000ff"/>
<circle cx="221" cy="366.4" r="3.3" fill="#000000"/>
<circle class="h" cx="221" cy="351.9" r="2.85"/>
<circle cx="232.9" cy="374.9" r="3.3" fill="#0000ff"/>
<circle cx="213.4" cy="389.1" r="3.3" fill="#000000"/>
<circle cx="228" cy="389.1" r="3.3" fill="#000000"/>
<circle cx="206.2" cy="401.6" r="3.3" fill="#0000ff"/>
<circle cx="235.8" cy="401.6" r="3.3" fill="#000000"/>
<circle cx="213.4" cy="414.2" r="3.3" fill="#000000"/>
<circle cx="228" cy="414.2" r="3.3" fill="#0000ff"/>
<circle cx="250.3" cy="401.6" r="3.3" fill="#0000ff"/>
<circle class="h" cx="250.7" cy="388.8" r="2.85"/>
<circle class="h" cx="250.7" cy="414.7" r="2.85"/>
<circle class="h" cx="207.3" cy="424.8" r="2.85"/>
<circle class="h" cx="36.9" cy="365" r="2.85"/>
<circle cx="49.9" cy="365" r="3.3" fill="#ff0000"/>
<circle cx="62.6" cy="365" r="3.3" fill="#ffa81e"/>
<circle cx="75.9" cy="365" r="3.3" fill="#ff0000"/>
<circle cx="88.6" cy="365" r="3.3" fill="#ffa81e"/>
<circle cx="101.9" cy="365" r="3.3" fill="#ff0000"/>
<circle cx="115.2" cy="365" r="3.3" fill="#ffa81e"/>
<circle cx="128.2" cy="365" r="3.3" fill="#ff0000"/>
<circle cx="62.6" cy="351.8" r="3.3" fill="#ff0000"/>
<circle cx="62.6" cy="378.1" r="3.3" fill="#ff0000"/>
<circle class="h" cx="62.6" cy="391.1" r="2.85"/>
<circle cx="88.6" cy="351.8" r="3.3" fill="#ff0000"/>
<circle cx="88.6" cy="378.1" r="3.3" fill="#ff0000"/>
<circle class="h" cx="88.6" cy="391.1" r="2.85"/>
<circle cx="115.2" cy="351.8" r="3.3" fill="#ff0000"/>
<circle cx="115.2" cy="378.1" r="3.3" fill="#ff0000"/>
<circle class="h" cx="115.2" cy="391.1" r="2.85"/>
<circle cx="176.5" cy="59.2" r="3.3" fill="#ffa81e"/>
<circle cx="176.5" cy="46" r="3.3" fill="#ff0000"/>
<circle cx="176.5" cy="72" r="3.3" fill="#ff0000"/>
<circle cx="163.4" cy="59.2" r="3.3" fill="#ff0000"/>
<circle cx="189.6" cy="59.2" r="3.3" fill="#ff0000"/>
<circle class="h" cx="176.8" cy="33.1" r="2.85"/>
<circle class="h" cx="150.6" cy="59.2" r="2.85"/>
<circle class="h" cx="176.5" cy="84.9" r="2.85"/>
<circle cx="257" cy="48" r="3.3" fill="#ff0000"/>
<circle cx="269.4" cy="56.9" r="3.3" fill="#000000"/>
<circle cx="245.3" cy="56.9" r="3.3" fill="#000000"/>
<circle cx="264.7" cy="70.3" r="3.3" fill="#000000"/>
<circle cx="250" cy="70.3" r="3.3" fill="#000000"/>
<circle cx="231.5" cy="51.8" r="3.3" fill="#000000"/>
<circle cx="236" cy="37.9" r="3.3" fill="#ff0000"/>
<circle class="h" cx="222" cy="33.8" r="2.85"/>
<circle class="h" cx="217.2" cy="47.6" r="2.85"/>
<circle class="h" cx="226.6" cy="66" r="2.85"/>
<circle cx="275.8" cy="43.5" r="3.3" fill="#ff0000"/>
<circle class="h" cx="288.8" cy="50" r="2.85"/>
<circle class="h" cx="282.3" cy="63" r="2.85"/>
<circle class="h" cx="235.8" cy="72.8" r="2.85"/>
<circle class="h" cx="279" cy="72.8" r="2.85"/>
<circle cx="252.3" cy="84.9" r="3.3" fill="#ff0000"/>
<circle cx="262.4" cy="84.9" r="3.3" fill="#ff0000"/>
<circle class="h" cx="237.7" cy="87.2" r="2.85"/>
<circle class="h" cx="277.1" cy="87.2" r="2.85"/>
<circle cx="220.1" cy="187.3" r="3.3" fill="#ff0000"/>
<circle cx="232.5" cy="196.2" r="3.3" fill="#000000"/>
<circle cx="208.4" cy="196.2" r="3.3" fill="#000000"/>
<circle cx="227.8" cy="209.6" r="3.3" fill="#000000"/>
<circle cx="213.1" cy="209.6" r="3.3" fill="#000000"/>
<circle cx="194.6" cy="191.1" r="3.3" fill="#000000"/>
<circle cx="199.1" cy="177.2" r="3.3" fill="#ff0000"/>
<circle class="h" cx="185.1" cy="173.1" r="2.85"/>
<circle class="h" cx="180.3" cy="186.9" r="2.85"/>
<circle class="h" cx="189.7" cy="205.3" r="2.85"/>
<circle cx="238.9" cy="182.8" r="3.3" fill="#ff0000"/>
<circle class="h" cx="251.9" cy="189.3" r="2.85"/>
<circle class="h" cx="245.4" cy="202.3" r="2.85"/>
<circle class="h" cx="198.9" cy="212.1" r="2.85"/>
<circle class="h" cx="242.1" cy="212.1" r="2.85"/>
<circle cx="215.5" cy="224.1" r="3.3" fill="#ff0000"/>
<circle cx="225.5" cy="224.2" r="3.3" fill="#ff0000"/>
<circle class="h" cx="200.8" cy="226.5" r="2.85"/>
<circle class="h" cx="240.2" cy="226.5" r="2.85"/>
<circle cx="215.5" cy="237" r="3.3" fill="#ffa81e"/>
<circle cx="202.4" cy="237" r="3.3" fill="#ff0000"/>
<circle class="h" cx="189.3" cy="237" r="2.85"/>
<circle cx="228.4" cy="237" r="3.3" fill="#ff0000"/>
<circle cx="215.5" cy="249.9" r="3.3" fill="#ff0000"/>
<circle class="h" cx="215.5" cy="262.8" r="2.85"/>
<circle class="h" cx="359.5" cy="9.1" r="2.85"/>
<circle cx="359.5" cy="23.7" r="3.3" fill="#000000"/>
<circle cx="347.5" cy="32" r="3.3" fill="#d2863a"/>
<circle cx="371.2" cy="32" r="3.3" fill="#d2863a"/>
<circle class="h" cx="333.9" cy="28" r="2.85"/>
<circle cx="352" cy="46.6" r="3.3" fill="#000000"/>
<circle cx="367" cy="46.6" r="3.3" fill="#000000"/>
<circle cx="344.9" cy="59" r="3.3" fill="#d2863a"/>
<circle cx="374.3" cy="59" r="3.3" fill="#000000"/>
<circle cx="352" cy="71.4" r="3.3" fill="#000000"/>
<circle cx="367" cy="71.4" r="3.3" fill="#d2863a"/>
<circle class="h" cx="345.7" cy="83.1" r="2.85"/>
<circle cx="388.9" cy="59" r="3.3" fill="#d2863a"/>
<circle class="h" cx="388.9" cy="46.2" r="2.85"/>
<circle class="h" cx="388.9" cy="72" r="2.85"/>
<circle class="h" cx="359.5" cy="126.4" r="2.85"/>
<circle cx="359.5" cy="141" r="3.3" fill="#000000"/>
<circle cx="347.7" cy="149.5" r="3.3" fill="#0000ff"/>
<circle cx="371.3" cy="149.5" r="3.3" fill="#0000ff"/>
<circle class="h" cx="333.9" cy="145.3" r="2.85"/>
<circle cx="352" cy="163.9" r="3.3" fill="#000000"/>
<circle cx="367" cy="163.9" r="3.3" fill="#000000"/>
<circle cx="344.9" cy="176.2" r="3.3" fill="#0000ff"/>
<circle cx="374.3" cy="176.2" r="3.3" fill="#000000"/>
<circle cx="352" cy="188.7" r="3.3" fill="#000000"/>
<circle cx="367" cy="188.7" r="3.3" fill="#0000ff"/>
<circle cx="388.9" cy="176.2" r="3.3" fill="#ff0000"/>
<circle class="h" cx="388.9" cy="163.3" r="2.85"/>
<circle cx="345.7" cy="200.2" r="3.3" fill="#0000ff"/>
<circle class="h" cx="334.5" cy="193.7" r="2.85"/>
<circle class="h" cx="356.8" cy="206.9" r="2.85"/>
<circle cx="345.7" cy="246.8" r="3.3" fill="#ff0000"/>
<circle class="h" cx="357" cy="240.3" r="2.85"/>
<circle cx="352" cy="258.2" r="3.3" fill="#000000"/>
<circle cx="367" cy="258.2" r="3.3" fill="#0000ff"/>
<circle cx="345.3" cy="271" r="3.3" fill="#0000ff"/>
<circle cx="374.3" cy="271" r="3.3" fill="#000000"/>
<circle cx="388.9" cy="271" r="3.3" fill="#0000ff"/>
<circle class="h" cx="388.9" cy="258.2" r="2.85"/>
<circle class="h" cx="388.9" cy="284.1" r="2.85"/>
<circle cx="352" cy="283.5" r="3.3" fill="#000000"/>
<circle cx="367" cy="283.5" r="3.3" fill="#000000"/>
<circle class="h" cx="345.3" cy="296.1" r="2.85"/>
<circle class="h" cx="373.9" cy="295.7" r="2.85"/>
<circle cx="345.7" cy="339.7" r="3.3" fill="#ff0000"/>
<circle class="h" cx="357" cy="333.4" r="2.85"/>
<circle cx="352" cy="351.1" r="3.3" fill="#000000"/>
<circle cx="367" cy="351.1" r="3.3" fill="#0000ff"/>
<circle cx="345.3" cy="363.9" r="3.3" fill="#0000ff"/>
<circle cx="374.3" cy="363.9" r="3.3" fill="#000000"/>
<circle cx="388.9" cy="363.9" r="3.3" fill="#ff0000"/>
<circle class="h" cx="388.9" cy="350.9" r="2.85"/>
<circle cx="352" cy="376" r="3.3" fill="#000000"/>
<circle cx="367" cy="376" r="3.3" fill="#000000"/>
<circle cx="344.9" cy="389" r="3.3" fill="#000000"/>
<circle class="h" cx="373.9" cy="388.2" r="2.85"/>
<circle cx="345.7" cy="430.5" r="3.3" fill="#ff0000"/>
<circle class="h" cx="357" cy="424.4" r="2.85"/>
<circle cx="352" cy="441.8" r="3.3" fill="#8a36c8"/>
<circle cx="367" cy="441.8" r="3.3" fill="#d2863a"/>
<circle cx="345.3" cy="454.6" r="3.3" fill="#d2863a"/>
<circle cx="374.3" cy="454.6" r="3.3" fill="#8a36c8"/>
<circle class="h" cx="388.9" cy="454.6" r="2.85"/>
<circle cx="352" cy="467" r="3.3" fill="#8a36c8"/>
<circle cx="367" cy="467" r="3.3" fill="#8a36c8"/>
<circle cx="344.9" cy="480.1" r="3.3" fill="#ff0000"/>
<circle class="h" cx="333.9" cy="473.9" r="2.85"/>
<circle cx="373.9" cy="478.9" r="3.3" fill="#8a36c8"/>
<circle class="h" cx="385" cy="472.4" r="2.85"/>
<circle class="h" cx="362.3" cy="485.8" r="2.85"/>
<circle class="h" cx="380.3" cy="490.5" r="2.85"/>
<circle class="h" cx="726.3" cy="528.5" r="2.85"/>
<circle cx="741" cy="528.5" r="3.3" fill="#ff0000"/>
<circle cx="755.5" cy="528.5" r="3.3" fill="#0000ff"/>
<circle cx="770" cy="528.5" r="3.3" fill="#000000"/>
<circle cx="784.7" cy="528.5" r="3.3" fill="#ffa81e"/>
</g>
<g stroke="#000" stroke-width="0.9" fill="none">
<path d="M173.2 29.1L180.4 37.1M180.4 29.1L173.2 37.1"/>
<path d="M232.4 33.9L239.6 41.9M239.6 33.9L232.4 41.9"/>
<path d="M218.4 29.8L225.6 37.8M225.6 29.8L218.4 37.8"/>
<path d="M272.2 39.5L279.4 47.5M279.4 39.5L272.2 47.5"/>
<path d="M285.2 46L292.4 54M292.4 46L285.2 54"/>
<path d="M330.3 24L337.5 32M337.5 24L330.3 32"/>
</g>
<g>
<path class="ln" d="M242.5 98.6 C243.5 103.2 247 103.2 252 103.2 L298 103.2 C304 103.2 307 103.6 308.3 106.2 C309.6 103.6 312.5 103.2 318 103.2 L366 103.2 C371.5 103.2 374.2 103 374.9 99"/>
<path class="ln" d="M146.6 113.6 C147.6 117.6 151 117.8 156 117.8 L229 117.8 C235 117.8 238.2 118.2 239.5 121 C240.8 118.2 244 117.8 250 117.8 L321 117.8 C326.5 117.8 329.8 117.6 330.6 113.6"/>
<path class="ln" d="M499 418L499 451.4"/>
<path d="M499 418L498.1 423.6L497.5 436.6L500.5 436.6L499.9 423.6Z" fill="#000"/>
<path class="ln" d="M704.4 329.7L704.4 363"/>
<path d="M704.4 329.7L703.4 335.4L702.9 348.6L705.9 348.6L705.4 335.4Z" fill="#000"/>
<path class="ln" d="M704.4 418.3L704.4 384.8"/>
<path d="M704.4 418.3L703.4 412.3L702.9 398.3L705.9 398.3L705.4 412.3Z" fill="#000"/>
</g>
<path d="M0 0H800V543H0Z M0.95 1V541.7H799.05V1Z" fill="#000" fill-rule="evenodd"/>
<path d="M0 483.4H110.6" fill="none" stroke="#6e6e6e" stroke-width="1.7"/>
<path d="M110.6 482.6V542" fill="none" stroke="#000" stroke-width="1.2"/>
<path d="M110.6 513.3H271.5V542" fill="none" stroke="#000" stroke-width="1.1"/>
<g font-family="Liberation Serif, serif" font-size="7.97" fill="#000" stroke="#000" stroke-width="0.18">
<text x="726.3" y="517.3" text-anchor="middle">H</text>
<text x="741" y="517.3" text-anchor="middle">O</text>
<text x="755.5" y="517.3" text-anchor="middle">N</text>
<text x="770" y="517.3" text-anchor="middle">C</text>
<text x="784.7" y="517.3" text-anchor="middle">P</text>
<text x="176.5" y="99.8" text-anchor="middle">Phosphoric acid</text>
<text x="220" y="99.8" text-anchor="middle" fill="#777" stroke="none">+</text>
<text x="257" y="99.8" text-anchor="middle">Ribose</text>
<text x="308.5" y="99.8" text-anchor="middle" fill="#777" stroke="none">+</text>
<text x="359.6" y="99.8" text-anchor="middle">Adenine</text>
<text x="418.2" y="98.6" text-anchor="middle" fill="#222" stroke="none">- 2H2O =</text>
<text x="308.5" y="112.5" text-anchor="middle">Nucleoside</text>
<text x="242.5" y="127.5" text-anchor="middle">Nucleotide</text>
<text x="491.5" y="99.5" text-anchor="middle">Adenylic acid</text>
<text x="491.5" y="208" text-anchor="middle">Guanylic acid</text>
<text x="491.5" y="310.6" text-anchor="middle">Cytidilic acid</text>
<text x="498.7" y="405.7" text-anchor="middle">Uradylic acid</text>
<text x="719" y="17.6" text-anchor="middle">Substitute deoxyribose</text>
<text x="696.5" y="99.5" text-anchor="middle">Deoxyadenylic acid</text>
<text x="682" y="208" text-anchor="middle">Deoxyguanylic acid</text>
<text x="696.5" y="310.6" text-anchor="middle">Deoxycytidilic acid</text>
<text x="696.5" y="501.7" text-anchor="middle">Deoxythymidilic acid</text>
<text x="381.5" y="208.2" text-anchor="middle">Guanine</text>
<text x="359.7" y="311" text-anchor="middle">Cytosine</text>
<text x="359.7" y="406.2" text-anchor="middle" font-family="Liberation Sans, sans-serif" font-size="7.5">Uracil</text>
<text x="352.6" y="501.2" text-anchor="middle">Thymine</text>
<text x="217.6" y="164.2" text-anchor="middle">The acid &amp; sugar can join like this, too.</text>
<text x="15" y="303.7" text-anchor="start">Variations of these nucleotides are very important.</text>
<text x="15" y="318" text-anchor="start">Ribonucleotides with two or three primaries are used to store &amp; transport energy.</text>
<text x="183.7" y="339.5" text-anchor="middle">Adenosine triphosphate</text>
<text x="168.8" y="421" text-anchor="middle">Adenylic acid</text>
<text x="15.8" y="457.6" text-anchor="start">Ribose is sometimes replaced by glucaose or another carbohydrate.</text>
<text x="15.8" y="472.2" text-anchor="start">The purine or pyrimidine is sometimes replaced by other N-containg rings.</text>
<text x="498.8" y="465" text-anchor="middle">These four are called bases &amp; are components of RNA</text>
<text x="704.3" y="376.8" text-anchor="middle">These four are called bases &amp; are components of DNA</text>
<text x="513.4" y="523.5" text-anchor="middle">These nucleotides are rendered acidic by the phosphate group, so are called Nucleic acids.</text>
<text x="4.4" y="495.4" text-anchor="start" font-size="9.2" stroke="none">Howard Barnes,</text>
<text x="11.7" y="504.6" text-anchor="start" font-size="9.2" stroke="none">4, Abbott Crescent,</text>
<text x="19.2" y="513.8" text-anchor="start" font-size="9.2" stroke="none">Kempston,</text>
<text x="26.7" y="522.8" text-anchor="start" font-size="9.2" stroke="none">Bedford.</text>
<text x="34.2" y="531.5" text-anchor="start" font-size="9.2" stroke="none">MK42   7QH</text>
<text x="4.5" y="540.2" text-anchor="start" font-size="9.2" stroke="none">howar@pigeonsnest.co.uk</text>
<text x="113.5" y="523.6" text-anchor="start" font-size="10.3" stroke="none">Title</text>
<text x="125" y="536.2" text-anchor="start" font-size="13.3" stroke="none">DNA 4: Some Nucleotides</text>
</g>
</svg>
</body>
</html>
